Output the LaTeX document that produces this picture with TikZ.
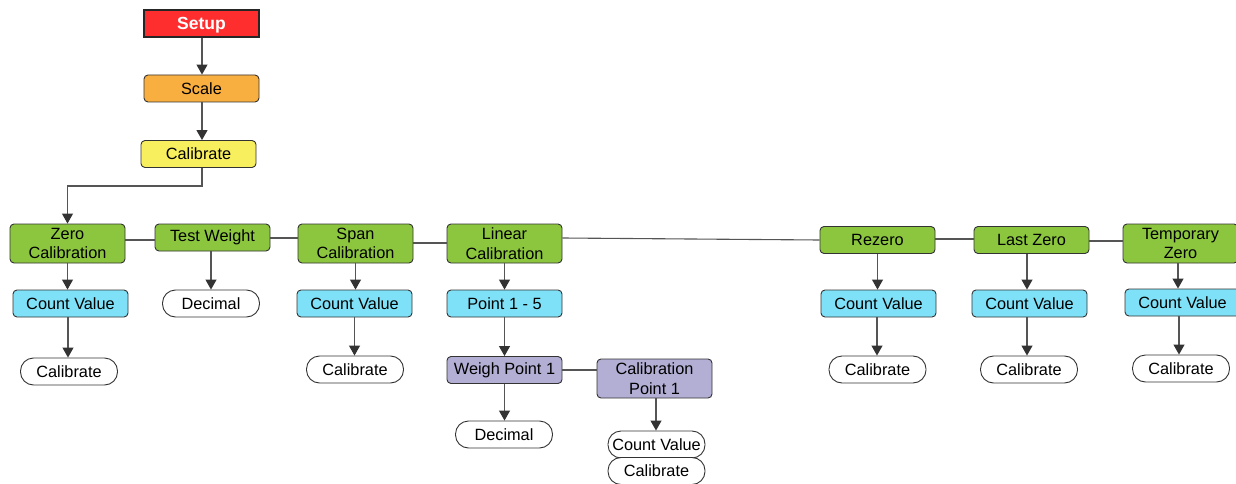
\documentclass[tikz,border=0pt]{standalone}
\usepackage{fontspec}
\setmainfont{Liberation Sans}
\usetikzlibrary{arrows.meta}
\definecolor{cred}{HTML}{FF2E2E}
\definecolor{corange}{HTML}{F9AE40}
\definecolor{cyellow}{HTML}{F8EF5E}
\definecolor{cgreen}{HTML}{8CC63F}
\definecolor{ccyan}{HTML}{7FE1F7}
\definecolor{cpurple}{HTML}{B3AED4}
\definecolor{cborder}{HTML}{333333}
\definecolor{cline}{HTML}{555555}
\tikzset{
  base/.style={draw=cborder, line width=0.9pt, rounded corners=4pt, minimum width=115pt, minimum height=27pt, inner sep=0pt, align=center, font=\fontsize{16.3}{19.5}\selectfont, text=black},
  tall/.style={minimum height=39pt},
  setupbox/.style={base, fill=cred, rounded corners=0pt, line width=1.8pt, draw=black!85, text=white, font=\fontsize{17.5}{20}\selectfont\bfseries, text height=12.5pt, text depth=0pt},
  scalebox/.style={base, fill=corange},
  calbox/.style={base, fill=cyellow},
  greenbox/.style={base, fill=cgreen},
  cyanbox/.style={base, fill=ccyan},
  purplebox/.style={base, fill=cpurple},
  pill/.style={base, fill=white, rounded corners=13pt, minimum width=97pt},
  arr/.style={draw=cline, line width=1.1pt, -{Triangle[length=10pt,width=11pt,color=cborder]}},
  ln/.style={draw=cline, line width=1.1pt}
}
\begin{document}
\begin{tikzpicture}[x=1pt,y=-1pt]
\useasboundingbox (0,0) rectangle (1236,484);
\clip (0,0) rectangle (1236,484);
% top chain
\node[setupbox] (setup) at (201.5,23.5) {Setup};
\node[scalebox] (scale) at (201.5,88.5) {Scale};
\node[calbox] (cal) at (198.5,154) {Calibrate};
% row 1
\node[greenbox,tall] (zero) at (67.5,243.5) {Zero\\Calibration};
\node[greenbox] (test) at (212.5,237.5) {Test Weight};
\node[greenbox,tall] (span) at (355.5,243.5) {Span\\Calibration};
\node[greenbox,tall] (linear) at (504.5,243.5) {Linear\\Calibration};
\node[greenbox] (rezero) at (877.5,240) {Rezero};
\node[greenbox] (last) at (1031.5,240) {Last Zero};
\node[greenbox,tall] (temp) at (1180.5,243.5) {Temporary\\Zero};
% row 2
\node[cyanbox] (cv1) at (70.5,303.5) {Count Value};
\node[pill] (dec1) at (211,303.5) {Decimal};
\node[cyanbox] (cv2) at (354.5,303.5) {Count Value};
\node[cyanbox] (pts) at (504.5,303.5) {Point 1 - 5};
\node[cyanbox] (cv3) at (878.5,303.5) {Count Value};
\node[cyanbox] (cv4) at (1029.5,303.5) {Count Value};
\node[cyanbox] (cv5) at (1182.5,302.5) {Count Value};
% row 3
\node[pill] (c1) at (69,371.5) {Calibrate};
\node[pill] (c2) at (355,369.5) {Calibrate};
\node[purplebox] (wp) at (504.5,370) {Weigh Point 1};
\node[purplebox,tall] (cp) at (654.5,378.5) {Calibration\\Point 1};
\node[pill] (c3) at (877.5,369.5) {Calibrate};
\node[pill] (c4) at (1029,369.5) {Calibrate};
\node[pill] (c5) at (1181,368.5) {Calibrate};
% row 4
\node[pill] (dec2) at (504,434.5) {Decimal};
\node[pill] (cv6) at (656.5,444.5) {Count Value};
\node[pill] (c6) at (656.5,471) {Calibrate};
% connectors
\draw[arr] (setup.south -| 202,0) -- (202,0 |- scale.north);
\draw[arr] (scale.south -| 202,0) -- (202,0 |- cal.north);
\draw[arr] (cal.south -| 202,0) -- (202,186) -| (zero.north);
\draw[ln] (zero.east |- 0,240) -- (test.west |- 0,240);
\draw[ln] (test.east |- 0,238) -- (span.west |- 0,238);
\draw[ln] (span.east |- 0,243) -- (linear.west |- 0,243);
\draw[ln] (linear.east |- 0,238) -- (rezero.west |- 0,240);
\draw[ln] (rezero.east |- 0,239) -- (last.west |- 0,239);
\draw[ln] (last.east |- 0,241) -- (temp.west |- 0,241);
\draw[arr] (zero.south) -- (zero.south |- cv1.north);
\draw[arr] (test.south -| dec1.north) -- (dec1.north);
\draw[arr] (span.south) -- (span.south |- cv2.north);
\draw[arr] (linear.south) -- (pts.north);
\draw[arr] (rezero.south) -- (rezero.south |- cv3.north);
\draw[arr] (last.south -| 1027,0) -- (1027,0 |- cv4.north);
\draw[arr] (temp.south -| 1178,0) -- (1178,0 |- cv5.north);
\draw[arr] (cv1.south -| 68,0) -- (68,0 |- c1.north);
\draw[arr] (cv2.south) -- (cv2.south |- c2.north);
\draw[arr] (pts.south) -- (wp.north);
\draw[arr] (cv3.south -| 877,0) -- (877,0 |- c3.north);
\draw[arr] (cv4.south -| 1027,0) -- (1027,0 |- c4.north);
\draw[arr] (cv5.south -| 1179,0) -- (1179,0 |- c5.north);
\draw[ln] (wp.east |- 0,370) -- (cp.west |- 0,370);
\draw[arr] (wp.south) -- (wp.south |- dec2.north);
\draw[arr] (cp.south -| 656,0) -- (656,0 |- cv6.north);
\end{tikzpicture}
\end{document}
